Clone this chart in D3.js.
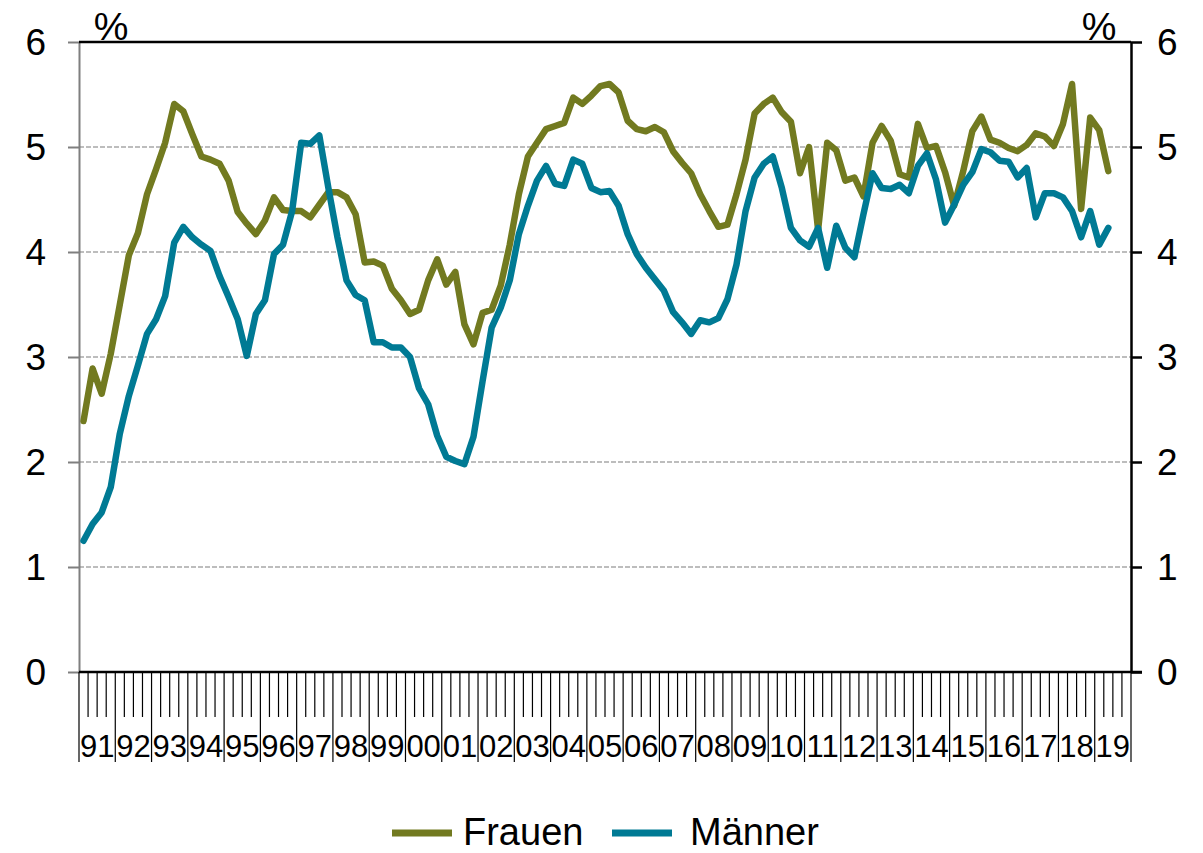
<!DOCTYPE html>
<html>
<head>
<meta charset="utf-8">
<script src="https://cdn.jsdelivr.net/npm/d3@7"></script>
<style>
  body { margin: 0; background: #fff; }
  text { font-family: "Liberation Sans", Arial, sans-serif; fill: #000; }
</style>
</head>
<body>
<div id="chart"></div>
<script>
// year labels on the x axis (quarterly data, 1991Q1 - 2019Q4 axis)
var years = ["91","92","93","94","95","96","97","98","99","00","01","02","03","04",
             "05","06","07","08","09","10","11","12","13","14","15","16","17","18","19"];
var quarters = ["Q1","Q2","Q3","Q4"];

// values in % (1991Q1 - 2019Q2)
var frauen = [2.39,2.89,2.65,3.03,3.50,3.97,4.18,4.55,4.79,5.04,5.41,5.34,5.12,4.91,4.88,4.84,
              4.68,4.38,4.27,4.17,4.30,4.52,4.40,4.39,4.39,4.33,4.45,4.57,4.57,4.52,4.36,3.90,
              3.91,3.87,3.65,3.54,3.41,3.45,3.73,3.93,3.69,3.81,3.31,3.12,3.42,3.45,3.68,4.07,
              4.55,4.91,5.04,5.17,5.20,5.23,5.47,5.41,5.49,5.58,5.60,5.52,5.25,5.17,5.15,5.19,
              5.14,4.96,4.85,4.75,4.55,4.39,4.24,4.26,4.55,4.88,5.32,5.41,5.47,5.33,5.24,4.75,
              5.00,4.21,5.04,4.97,4.68,4.71,4.53,5.04,5.20,5.06,4.74,4.71,5.22,4.99,5.01,4.76,
              4.44,4.77,5.15,5.29,5.07,5.04,4.99,4.96,5.02,5.13,5.10,5.01,5.22,5.60,4.41,5.28,
              5.16,4.77];
var maenner = [1.25,1.41,1.52,1.76,2.27,2.63,2.92,3.22,3.36,3.58,4.09,4.24,4.14,4.07,4.01,3.77,
               3.57,3.36,3.01,3.41,3.54,3.98,4.07,4.39,5.04,5.03,5.11,4.61,4.14,3.73,3.59,3.54,
               3.14,3.14,3.09,3.09,3.00,2.70,2.55,2.25,2.05,2.01,1.98,2.24,2.77,3.28,3.47,3.73,
               4.17,4.44,4.68,4.82,4.65,4.63,4.88,4.84,4.61,4.57,4.58,4.44,4.17,3.98,3.85,3.74,
               3.63,3.43,3.33,3.22,3.35,3.33,3.37,3.55,3.88,4.39,4.71,4.84,4.91,4.61,4.23,4.11,
               4.05,4.23,3.85,4.25,4.04,3.95,4.36,4.75,4.61,4.60,4.64,4.56,4.82,4.94,4.69,4.28,
               4.45,4.64,4.76,4.98,4.95,4.87,4.86,4.71,4.80,4.33,4.56,4.56,4.52,4.39,4.14,4.39,
               4.07,4.23];
var yTicks = [0,1,2,3,4,5,6];

var W = 1203, H = 853;
var margin = { top: 42, right: 72, bottom: 181, left: 79 };
var width = W - margin.left - margin.right,
    height = H - margin.top - margin.bottom;

var categories = [];
years.forEach(function (yr) {
    quarters.forEach(function (q) { categories.push(yr + q); });
});

var svg = d3.select("#chart").append("svg")
    .attr("width", W).attr("height", H);
var g = svg.append("g")
    .attr("transform", "translate(" + margin.left + "," + margin.top + ")");

var x = d3.scaleBand().domain(categories).range([0, width]).padding(0);
var y = d3.scaleLinear().domain([0, 6]).range([height, 0]);

// gridlines
g.selectAll(".grid").data(yTicks.filter(function (d) { return d > 0 && d < 6; }))
    .enter().append("line")
    .attr("x1", 0).attr("x2", width)
    .attr("y1", function (d) { return y(d); })
    .attr("y2", function (d) { return y(d); })
    .attr("stroke", "#bdbdbd").attr("stroke-width", 2)
    .attr("stroke-dasharray", "5,2");

// left axis (gray)
var yAxisL = g.append("g")
    .call(d3.axisLeft(y).tickValues(yTicks).tickFormat(d3.format("d"))
        .tickSize(11).tickSizeOuter(0).tickPadding(22));
yAxisL.select(".domain").attr("stroke", "#7f7f7f").attr("stroke-width", 2);
yAxisL.selectAll(".tick line").attr("stroke", "#7f7f7f").attr("stroke-width", 2);
yAxisL.selectAll("text").style("font-size", "37px").attr("dy", "0.35em");

// right axis (black)
var yAxisR = g.append("g")
    .attr("transform", "translate(" + width + ",0)")
    .call(d3.axisRight(y).tickValues(yTicks).tickFormat(d3.format("d"))
        .tickSize(11).tickSizeOuter(0).tickPadding(15));
yAxisR.select(".domain").attr("stroke", "#000").attr("stroke-width", 2.5);
yAxisR.selectAll(".tick line").attr("stroke", "#000").attr("stroke-width", 2.5);
yAxisR.selectAll("text").style("font-size", "37px").attr("dy", "0.35em");

// top border
g.append("line").attr("x1", 0).attr("x2", width).attr("y1", 0).attr("y2", 0)
    .attr("stroke", "#000").attr("stroke-width", 2.5);

// x axis: quarter ticks and year separators
var xAxis = g.append("g").attr("transform", "translate(0," + height + ")");
xAxis.selectAll(".qtick").data(categories).enter().append("line")
    .attr("x1", function (d) { return x(d); })
    .attr("x2", function (d) { return x(d); })
    .attr("y1", 0)
    .attr("y2", function (d) { return d.slice(2) === "Q1" ? 90 : 45; })
    .attr("stroke", "#000").attr("stroke-width", 1.2);
xAxis.append("line").attr("x1", width).attr("x2", width).attr("y1", 0).attr("y2", 90)
    .attr("stroke", "#000").attr("stroke-width", 1.2);
xAxis.append("line").attr("x1", 0).attr("x2", width + 11).attr("y1", 0).attr("y2", 0)
    .attr("stroke", "#000").attr("stroke-width", 2.5);
xAxis.selectAll(".ylabel").data(years).enter().append("text")
    .attr("x", function (d) { return x(d + "Q1") + 2 * x.bandwidth(); })
    .attr("y", 85)
    .attr("text-anchor", "middle")
    .style("font-size", "31px")
    .text(function (d) { return d; });

// % labels
g.append("text").attr("x", 32).attr("y", -2).attr("text-anchor", "middle")
    .style("font-size", "39px").text("%");
g.append("text").attr("x", width - 32).attr("y", -2).attr("text-anchor", "middle")
    .style("font-size", "39px").text("%");

// lines
var line = function (vals) {
    return d3.line()
        .x(function (d, i) { return x(categories[i]) + x.bandwidth() / 2; })
        .y(function (d) { return y(d); })(vals);
};
var series = [
    { name: "Frauen", values: frauen, color: "#727a20" },
    { name: "Männer", values: maenner, color: "#007a94" }
];
series.forEach(function (s) {
    g.append("path")
        .attr("d", line(s.values))
        .attr("fill", "none")
        .attr("stroke", s.color)
        .attr("stroke-width", 6.5)
        .attr("stroke-linejoin", "round")
        .attr("stroke-linecap", "round");
});

// legend
var legend = svg.append("g").attr("transform", "translate(0,833)");
var legX = [392, 612];
series.forEach(function (s, i) {
    legend.append("line")
        .attr("x1", legX[i]).attr("x2", legX[i] + 60)
        .attr("y1", 0).attr("y2", 0)
        .attr("stroke", s.color).attr("stroke-width", 7);
    legend.append("text")
        .attr("x", legX[i] + 71 + i * 7).attr("y", 12)
        .style("font-size", "38px")
        .text(s.name);
});
</script>
</body>
</html>
